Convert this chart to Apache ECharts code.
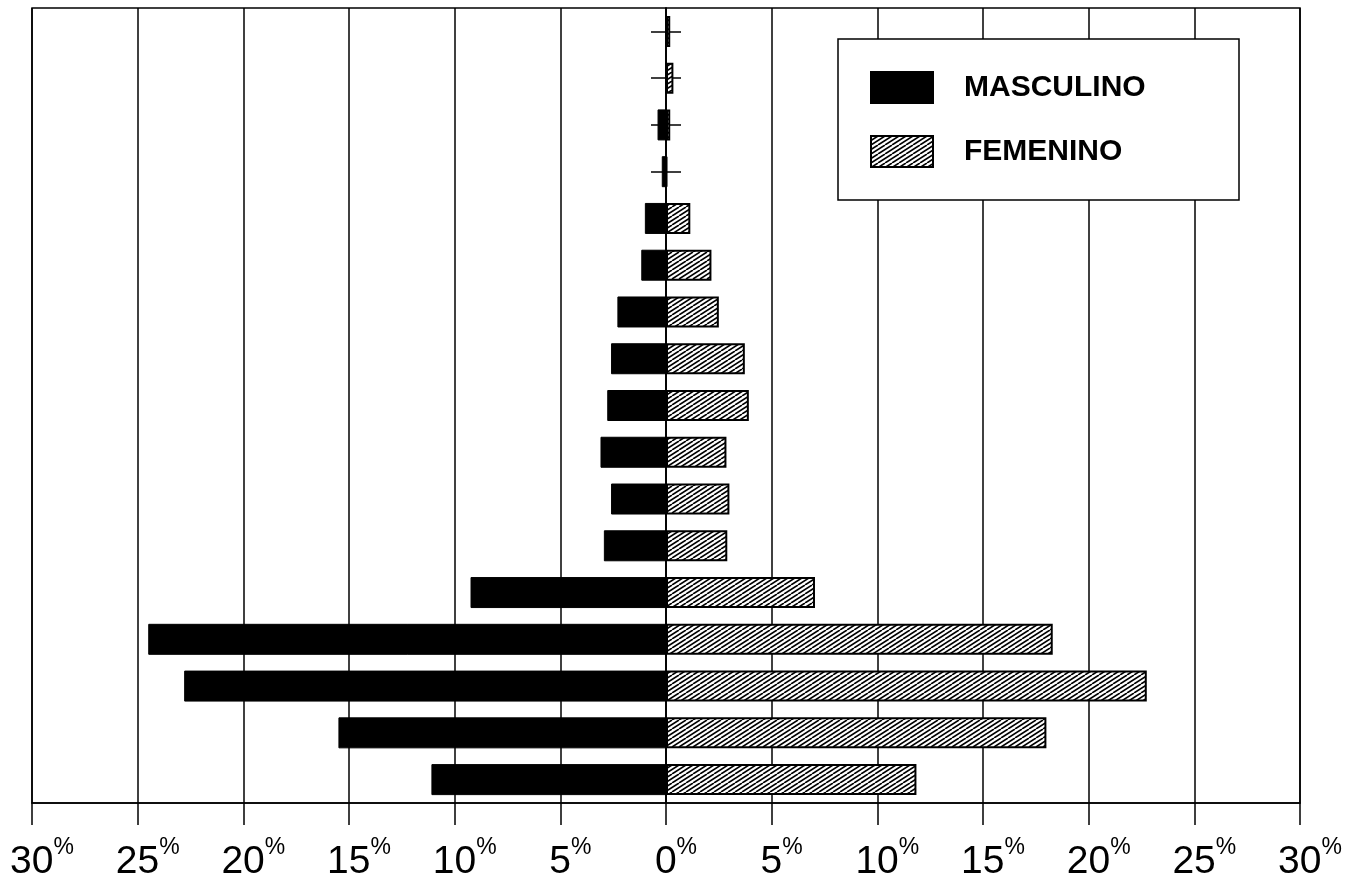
<!DOCTYPE html>
<html>
<head>
<meta charset="utf-8">
<script src="https://cdn.jsdelivr.net/npm/echarts@6/dist/echarts.min.js"></script>
<style>
html,body{margin:0;padding:0;background:#fff;}
#chart{width:1352px;height:882px;}
</style>
</head>
<body>
<div id="chart"></div>
<script>
// Age groups, bottom to top
const categories = ['0-4','5-9','10-14','15-19','20-24','25-29','30-34','35-39','40-44','45-49','50-54','55-59','60-64','65-69','70-74','75-79','80+'];
// Percentages (bottom to top)
const masculino = [11.1, 15.5, 22.8, 24.5, 9.25, 2.94, 2.6, 3.1, 2.78, 2.6, 2.3, 1.17, 1.0, 0.2, 0.4, 0, 0];
const femenino  = [11.85, 18.0, 22.75, 18.3, 7.05, 2.9, 3.0, 2.86, 3.92, 3.73, 2.5, 2.15, 1.15, 0.05, 0.2, 0.35, 0.2];
const seriesNames = ['MASCULINO', 'FEMENINO'];
const axisMin = -30, axisMax = 30, axisStep = 5;

// hatch pattern
const hatch = document.createElement('canvas');
hatch.width = 14; hatch.height = 9;
const hc = hatch.getContext('2d');
hc.fillStyle = '#fff';
hc.fillRect(0, 0, 14, 9);
hc.strokeStyle = '#000';
hc.lineWidth = 1.6;
hc.beginPath();
[-14, -7, 0, 7, 14].forEach(function (x0) { hc.moveTo(x0, 9); hc.lineTo(x0 + 14, 0); });
hc.stroke();

const chart = echarts.init(document.getElementById('chart'), null, {renderer: 'canvas'});
const black = {color: '#000', width: 1.5};
const yAxisBase = {
  type: 'category',
  data: categories,
  axisLine: {show: true, onZero: true, onZeroAxisIndex: 0, lineStyle: black},
  axisTick: {show: true, alignWithLabel: true, length: 15, lineStyle: black},
  axisLabel: {show: false},
  splitLine: {show: false}
};
chart.setOption({
  animation: false,
  backgroundColor: '#fff',
  textStyle: {fontFamily: 'Liberation Sans'},
  grid: {left: 32, right: 52, top: 8, bottom: 78, show: true, borderColor: '#000', borderWidth: 1.5, containLabel: false},
  legend: {
    data: seriesNames,
    orient: 'vertical',
    left: 838, top: 39,
    padding: [32, 63, 32, 32],
    itemWidth: 62, itemHeight: 31, itemGap: 31,
    icon: 'rect',
    selectedMode: false,
    backgroundColor: '#fff',
    borderColor: '#000', borderWidth: 1.5,
    textStyle: {fontFamily: 'Liberation Sans', fontSize: 30, fontWeight: 'bold', color: '#000', padding: [0, 0, 0, 26], width: 212, lineHeight: 31}
  },
  xAxis: {
    type: 'value',
    min: axisMin, max: axisMax, interval: axisStep,
    axisLine: {show: true, onZero: false, lineStyle: black},
    axisTick: {show: true, length: 22, lineStyle: black},
    splitLine: {show: true, lineStyle: black},
    axisLabel: {
      margin: 33,
      formatter: function (v) { return '{n|' + Math.abs(v) + '}{p|%}'; },
      rich: {
        n: {fontFamily: 'Liberation Sans', fontSize: 39, color: '#000', padding: [7, 0, 0, 20], verticalAlign: 'bottom'},
        p: {fontFamily: 'Liberation Sans', fontSize: 23, color: '#000', verticalAlign: 'top'}
      }
    }
  },
  yAxis: [
    Object.assign({}, yAxisBase, {position: 'left'}),
    Object.assign({}, yAxisBase, {position: 'right'})
  ],
  series: [
    {
      name: seriesNames[0], type: 'bar', barWidth: 31, barGap: '-100%',
      itemStyle: {color: '#000', borderColor: '#000', borderWidth: 1},
      data: masculino.map(function (v) { return -v; })
    },
    {
      name: seriesNames[1], type: 'bar', barWidth: 31, barGap: '-100%',
      itemStyle: {color: {image: hatch, repeat: 'repeat'}, borderColor: '#000', borderWidth: 2},
      data: femenino
    }
  ]
});
</script>
</body>
</html>
